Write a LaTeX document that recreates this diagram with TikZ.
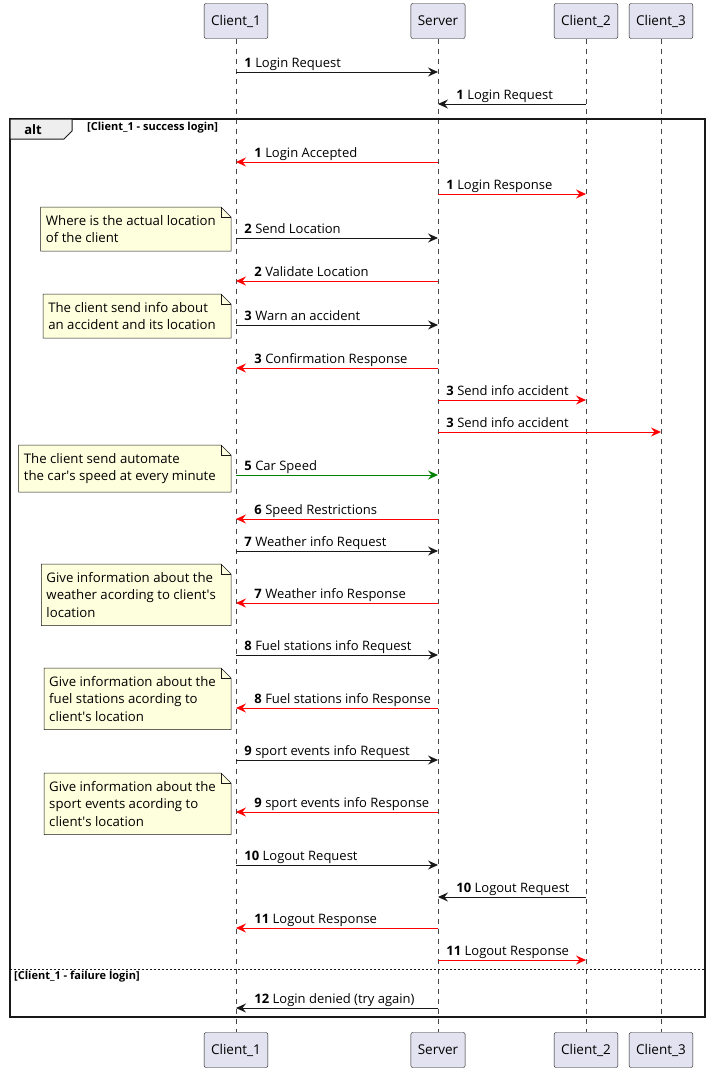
\documentclass[tikz,border=0pt]{standalone}
\usepackage{fontspec}
\setmainfont{Open Sans}
\usetikzlibrary{arrows.meta,backgrounds}
\definecolor{ink}{HTML}{181818}
\definecolor{partfill}{HTML}{E2E2F0}
\definecolor{notefill}{HTML}{FEFFDD}
\definecolor{tabfill}{HTML}{EEEEEE}
\definecolor{okgreen}{HTML}{008000}
\definecolor{errred}{HTML}{FF0000}
\begin{document}
\begin{tikzpicture}[x=1pt, y=-1pt]
        \tikzstyle{part} = [draw=ink, fill=partfill, rounded corners=2pt, minimum height=35pt, inner xsep=7pt, font=\fontsize{13.5}{16}\selectfont]
        \tikzstyle{life} = [draw=ink!80, line width=0.5pt, dash pattern=on 5pt off 5pt]
        \tikzstyle{msg} = [draw=ink, line width=0.9pt, -{Stealth[length=10pt, width=9pt, inset=3.5pt]}]
        \tikzstyle{lbl} = [inner sep=0pt, anchor=base west, yshift=5pt, font=\fontsize{13}{15}\selectfont, text=black]
        \tikzstyle{fwd} = [lbl, pos=0, xshift=8pt]
        \tikzstyle{bwd} = [lbl, pos=1, xshift=18pt]
        \tikzstyle{note} = [anchor=north east, align=left, inner xsep=5pt, inner ysep=8pt, font=\fontsize{13.2}{17.5}\selectfont]
        \tikzstyle{cond} = [anchor=west, inner sep=0pt, font=\bfseries\fontsize{11}{13}\selectfont]
        \useasboundingbox (0,0) rectangle (711,1071);

        % participants
        \node[part] (c1) at (236, 21) {Client\_1};
        \node[part] (sv) at (438, 21) {Server};
        \node[part] (c2) at (586, 21) {Client\_2};
        \node[part] (c3) at (661, 21) {Client\_3};
        \node[part] (c1b) at (236, 1050) {Client\_1};
        \node[part] (svb) at (438, 1050) {Server};
        \node[part] (c2b) at (586, 1050) {Client\_2};
        \node[part] (c3b) at (661, 1050) {Client\_3};

        \draw[life] (c1) -- (c1b);
        \draw[life] (sv) -- (svb);
        \draw[life] (c2) -- (c2b);
        \draw[life] (c3) -- (c3b);

        % alt frame
        \draw[ink, line width=1.5pt] (10,119) rectangle (705,1017);
        \draw[ink, fill=tabfill, line width=1pt] (10,119) -- (72,119) -- (72,131) -- (64,139) -- (10,139) -- cycle;
        \node[font=\bfseries\fontsize{13}{15}\selectfont] (alt) at (33,129.5) {alt};
        \node[cond] (okcase) at (87,128) {[Client\_1 - success login]};
        \draw[ink, line width=0.8pt, dash pattern=on 2pt off 2pt] (10,969) -- (705,969);
        \node[cond] (failcase) at (14,977) {[Client\_1 - failure login]};

        % notes
        \node[note] (n1) at (221, 207) {Where is the actual location\\of the client};
        \node[note] (n2) at (221, 294) {The client send info about\\an accident and its location};
        \node[note] (n3) at (221, 445) {The client send automate\\the car\textquotesingle s speed at every minute};
        \node[note] (n4) at (221, 564) {Give information about the\\weather acording to client\textquotesingle s\\location};
        \node[note] (n5) at (221, 668) {Give information about the\\fuel stations acording to\\client\textquotesingle s location};
        \node[note] (n6) at (221, 773) {Give information about the\\sport events acording to\\client\textquotesingle s location};
        \begin{scope}[on background layer]
            \foreach \n in {n1, n2, n3, n4, n5, n6} {
                \draw[ink, fill=notefill, line width=0.5pt] (\n.south west) -- (\n.north west) -- (\n.north east) -- ([xshift=10pt, yshift=-10pt]\n.north east) -- ([xshift=10pt]\n.south east) -- cycle;
                \draw[ink, line width=0.5pt] (\n.north east) |- ([xshift=10pt, yshift=-10pt]\n.north east);
            }
        \end{scope}

        % messages
        \path[msg] (c1 |- 0,72) -- (sv |- 0,72) node[fwd] (m1) {\textbf{1} Login Request};
        \path[msg] (c2 |- 0,104) -- (sv |- 0,104) node[bwd] (m2) {\textbf{1} Login Request};
        \path[msg, draw=errred] (sv |- 0,162) -- (c1 |- 0,162) node[bwd] (m3) {\textbf{1} Login Accepted};
        \path[msg, draw=errred] (sv |- 0,194) -- (c2 |- 0,194) node[fwd] (m4) {\textbf{1} Login Response};
        \path[msg] (c1 |- 0,238) -- (sv |- 0,238) node[fwd] (m5) {\textbf{2} Send Location};
        \path[msg, draw=errred] (sv |- 0,281) -- (c1 |- 0,281) node[bwd] (m6) {\textbf{2} Validate Location};
        \path[msg] (c1 |- 0,325) -- (sv |- 0,325) node[fwd] (m7) {\textbf{3} Warn an accident};
        \path[msg, draw=errred] (sv |- 0,368) -- (c1 |- 0,368) node[bwd] (m8) {\textbf{3} Confirmation Response};
        \path[msg, draw=errred] (sv |- 0,400) -- (c2 |- 0,400) node[fwd] (m9) {\textbf{3} Send info accident};
        \path[msg, draw=errred] (sv |- 0,432) -- (c3 |- 0,432) node[fwd] (m10) {\textbf{3} Send info accident};
        \path[msg, draw=okgreen] (c1 |- 0,475) -- (sv |- 0,475) node[fwd] (m11) {\textbf{5} Car Speed};
        \path[msg, draw=errred] (sv |- 0,519) -- (c1 |- 0,519) node[bwd] (m12) {\textbf{6} Speed Restrictions};
        \path[msg] (c1 |- 0,551) -- (sv |- 0,551) node[fwd] (m13) {\textbf{7} Weather info Request};
        \path[msg, draw=errred] (sv |- 0,603) -- (c1 |- 0,603) node[bwd] (m14) {\textbf{7} Weather info Response};
        \path[msg] (c1 |- 0,655) -- (sv |- 0,655) node[fwd] (m15) {\textbf{8} Fuel stations info Request};
        \path[msg, draw=errred] (sv |- 0,708) -- (c1 |- 0,708) node[bwd] (m16) {\textbf{8} Fuel stations info Response};
        \path[msg] (c1 |- 0,760) -- (sv |- 0,760) node[fwd] (m17) {\textbf{9} sport events info Request};
        \path[msg, draw=errred] (sv |- 0,812) -- (c1 |- 0,812) node[bwd] (m18) {\textbf{9} sport events info Response};
        \path[msg] (c1 |- 0,865) -- (sv |- 0,865) node[fwd] (m19) {\textbf{10} Logout Request};
        \path[msg] (c2 |- 0,897) -- (sv |- 0,897) node[bwd] (m20) {\textbf{10} Logout Request};
        \path[msg, draw=errred] (sv |- 0,928) -- (c1 |- 0,928) node[bwd] (m21) {\textbf{11} Logout Response};
        \path[msg, draw=errred] (sv |- 0,960) -- (c2 |- 0,960) node[fwd] (m22) {\textbf{11} Logout Response};
        \path[msg] (sv |- 0,1008) -- (c1 |- 0,1008) node[bwd] (m23) {\textbf{12} Login denied (try again)};
    \end{tikzpicture}
\end{document}
